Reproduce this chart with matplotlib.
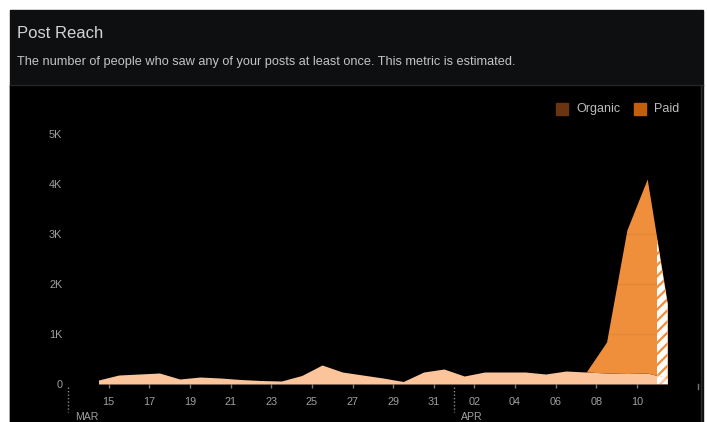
import numpy as np
import matplotlib
matplotlib.use("Agg")
import matplotlib.pyplot as plt
import matplotlib.dates as mdates
from matplotlib.patches import Rectangle

plt.rcParams["font.family"] = ["Liberation Sans", "DejaVu Sans"]
plt.rcParams["hatch.linewidth"] = 1.6

# --- data (daily reach) ---
start = np.datetime64("2021-03-14T12:00")
organic = [80, 180, 200, 220, 100, 140, 120, 90, 70, 60, 170, 380, 240, 180,
           120, 50, 240, 300, 160, 240, 240, 240, 200, 260, 240, 220, 210, 220, 120]
paid = [0] * 24 + [0, 620, 2870, 3880, 1480]
days = start + np.arange(len(organic)) * np.timedelta64(1, "D")

tick_days = [np.datetime64(d) for d in
             ["2021-03-15", "2021-03-17", "2021-03-19", "2021-03-21", "2021-03-23",
              "2021-03-25", "2021-03-27", "2021-03-29", "2021-03-31", "2021-04-02",
              "2021-04-04", "2021-04-06", "2021-04-08", "2021-04-10"]]
y_ticks = [0, 1000, 2000, 3000, 4000, 5000]
y_labels = ["0", "1K", "2K", "3K", "4K", "5K"]

PEACH = "#fcc49a"
ORANGE = "#ef8f3b"
TXT = "#a0a0a0"

W, H = 707, 422
fig = plt.figure(figsize=(W / 100, H / 100), dpi=100, facecolor="white")


def fx(px):
    return px / W


def fy(py):
    return 1 - py / H


# panel background
fig.patches.append(Rectangle((fx(10), 0), fx(693), fy(10), transform=fig.transFigure,
                             color="#0e0f11", zorder=-3))
fig.patches.append(Rectangle((fx(10), 0), fx(690), fy(85), transform=fig.transFigure,
                             color="black", zorder=-2))
fig.add_artist(plt.Line2D([fx(10), fx(703)], [fy(84.5)] * 2, color="#26272a", lw=1,
                          zorder=-1))
fig.add_artist(plt.Line2D([fx(700.5)] * 2, [0, fy(85)], color="#2c2c2e", lw=1,
                          zorder=-1))

fig.text(fx(17), fy(33), "Post Reach", color="#d4d4d4", fontsize=12, va="center")
fig.text(fx(17), fy(62), "The number of people who saw any of your posts at least once. "
         "This metric is estimated.", color="#c4c4c4", fontsize=9.2, va="center")

# legend
for x0, col, lab in [(556, "#6a3411", "Organic"), (634, "#c35f0b", "Paid")]:
    fig.patches.append(Rectangle((fx(x0), fy(115)), fx(12), 12 / H,
                                 transform=fig.transFigure, color=col, zorder=2))
    fig.text(fx(x0 + 20), fy(109), lab, color="#bdbdbd", fontsize=9, va="center")

ax = fig.add_axes([fx(68), 38 / H, fx(630), 250 / H], zorder=1)
ax.set_facecolor("none")
for s in ax.spines.values():
    s.set_visible(False)

organic = np.array(organic)
paid = np.array(paid)
total = organic + paid
ax.fill_between(days, 0, organic, color=PEACH, lw=0, zorder=2)
ax.fill_between(days, organic, total, color=ORANGE, lw=0, zorder=2)

# last half day is still being counted: hatched
d_last = mdates.date2num(days[-1])
clip = Rectangle((d_last - 0.5, 0), 0.5, 6000, transform=ax.transData)
h1 = ax.fill_between(days, 0, organic, facecolor="white", edgecolor=PEACH,
                     hatch="///", lw=0, zorder=3)
h2 = ax.fill_between(days, organic, total, facecolor="white", edgecolor=ORANGE,
                     hatch="///", lw=0, zorder=3)
h1.set_clip_path(clip)
h2.set_clip_path(clip)

for yv in y_ticks[1:]:
    ax.axhline(yv, color="black", alpha=0.05, lw=1, zorder=4)

ax.set_xlim(np.datetime64("2021-03-13"), np.datetime64("2021-04-13"))
ax.set_ylim(0, 5000)
ax.set_xticks(tick_days)
ax.set_xticklabels([str(d.astype(object).day).zfill(2) for d in tick_days])
ax.set_yticks(y_ticks)
ax.set_yticklabels(y_labels)
ax.tick_params(axis="x", colors="#777777", labelcolor=TXT, labelsize=7.8,
               length=3, width=1, pad=6.5)
ax.tick_params(axis="y", length=0, labelcolor=TXT, labelsize=7.8, pad=4)

# month dividers
for d, lab in [("2021-03-13", "MAR"), ("2021-04-01", "APR")]:
    xd = np.datetime64(d)
    ax.plot([xd, xd], [-60, -560], color="#8a8a8a", lw=1, ls=(0, (1, 1.5)),
            clip_on=False, zorder=5)
    ax.text(mdates.date2num(xd) + 0.35, -660, lab, color=TXT, fontsize=7.6,
            va="center", ha="left", clip_on=False)
ax.plot([np.datetime64("2021-04-13")] * 2, [0, -100], color="#777777", lw=1,
        clip_on=False)

fig.savefig("out.png", dpi=100, facecolor="white")
